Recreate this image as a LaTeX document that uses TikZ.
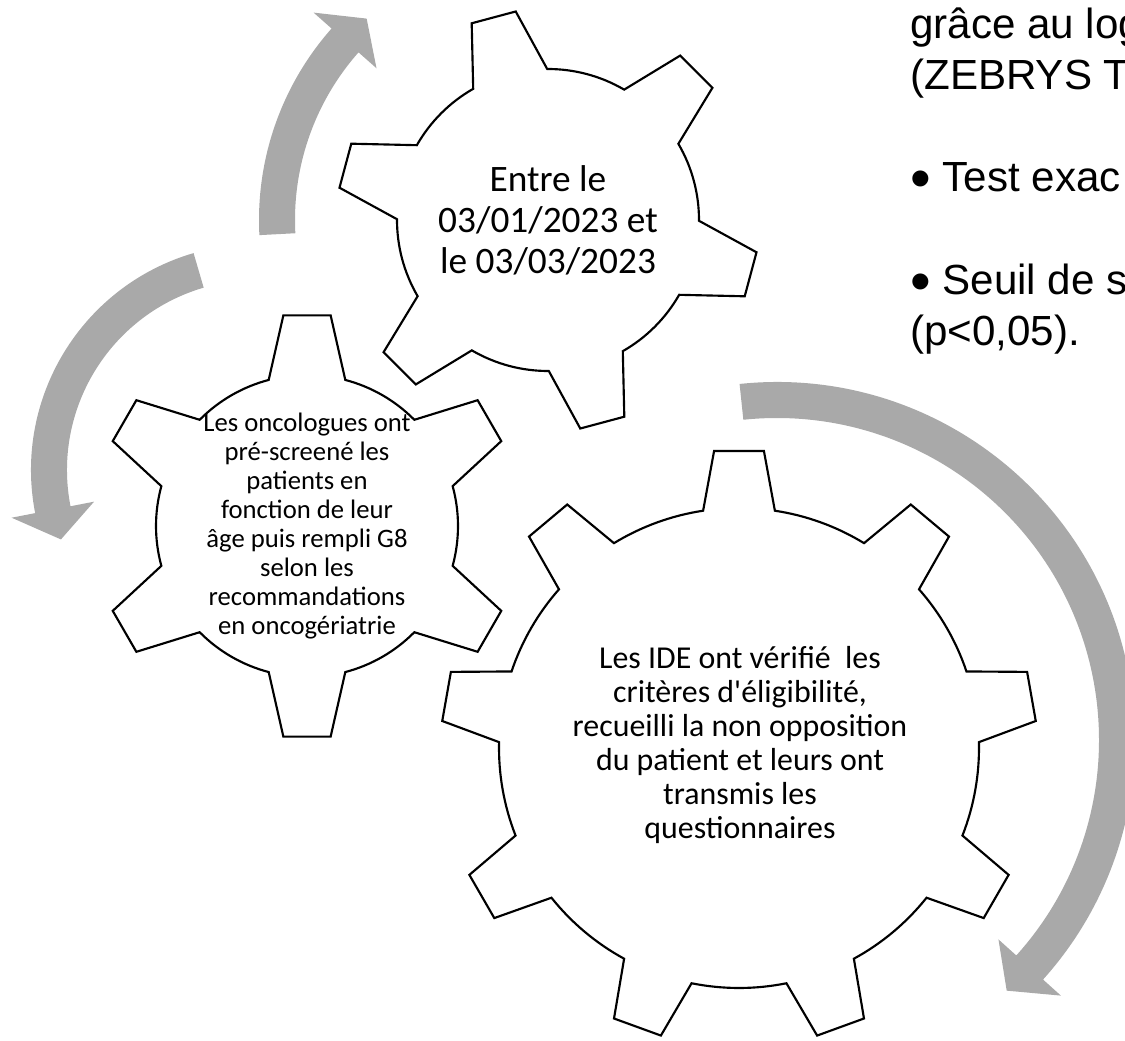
\documentclass[tikz,border=0pt]{standalone}
\usepackage{fontspec}
\setmainfont{Carlito}
\newfontfamily\arialfont{Liberation Sans}
\usetikzlibrary{calc}
\definecolor{arrowgray}{RGB}{169,169,169}
\newcommand\notebullet{\raisebox{-0.155em}{\scalebox{1.4}{•}}}
\tikzset{
  gear/.style={draw=black,fill=white,line width=1.6pt,line join=miter},
  cyclearrow/.style={fill=arrowgray,draw=none},
  geartext/.style={align=center,inner sep=0pt},
  note/.style={inner sep=0pt,font=\arialfont\fontsize{31.6}{38.3}\selectfont}
}

\begin{document}
\begin{tikzpicture}[x=0.75pt,y=0.75pt]
\useasboundingbox (0,0) rectangle (1125,-1041);
\clip (0,0) rectangle (1125,-1041);
\coordinate (gtop) at (548,-220); \coordinate (gmid) at (307,-526); \coordinate (gbig) at (739,-748);
\coordinate (atop) at (548,-220); \coordinate (aleft) at (257,-470); \coordinate (aright) at (777,-740);

\foreach \arcc/\arcs/\arce/\arct/\rin/\rout in {atop/183/138.5/132/253/289, aleft/106.3/191/199.5/190/226, aright/96/-42/-47.5/322/358}{
  \fill[cyclearrow,shift={(\arcc)}] (\arcs:\rout) arc[start angle=\arcs,end angle=\arce,radius=\rout]
    -- (\arce:{\rout+24}) -- (\arct:{(\rin+\rout)/2}) -- (\arce:{\rin-24}) -- (\arce:\rin)
    arc[start angle=\arce,end angle=\arcs,radius=\rin] -- cycle;
}

\foreach \g/\n/\ro/\rr/\bt/\bb/\off in {gtop/6/211/151/6.2/14.7/105, gmid/6/212/151/6.4/14.7/90, gbig/9/298/240/4.8/8.6/90}{
  \draw[gear,shift={(\g)}] (\off-\bb:\rr)
    \foreach \k [evaluate=\k as \ta using \off+(\k-1)*360/\n, evaluate=\k as \tb using \off+\k*360/\n] in {1,...,\n}{
      -- (\ta-\bb:\rr) -- (\ta-\bt:\ro) -- (\ta+\bt:\ro) -- (\ta+\bb:\rr)
      arc[start angle=\ta+\bb,end angle=\tb-\bb,radius=\rr]
    } -- cycle;
}

\node[geartext,font=\fontsize{28}{30.8}\selectfont] (ttop) at (gtop) {Entre le\\03/01/2023 et\\le 03/03/2023};
\node[geartext,font=\fontsize{20}{21.75}\selectfont] (tmid) at (gmid) {Les oncologues ont\\pré-screené les\\patients en\\fonction de leur\\âge puis rempli G8\\selon les\\recommandations\\en oncogériatrie};
\node[geartext,font=\fontsize{23.9}{25.5}\selectfont] (tbig) at ($(gbig)+(1,3)$) {Les IDE ont vérifié~ les\\critères d\textquotesingle éligibilité,\\recueilli la non opposition\\du patient et leurs ont\\transmis les\\questionnaires};

\foreach \yy/\txt [count=\i] in {39/grâce au log, 90/(ZEBRYS T, 192/{\notebullet{} Test exac}, 295/{\notebullet{} Seuil de s}, 345/{(p<0,05).}}
  \node[note,anchor=base west] (note\i) at (910,-\yy) {\txt};
\end{tikzpicture}
\end{document}
